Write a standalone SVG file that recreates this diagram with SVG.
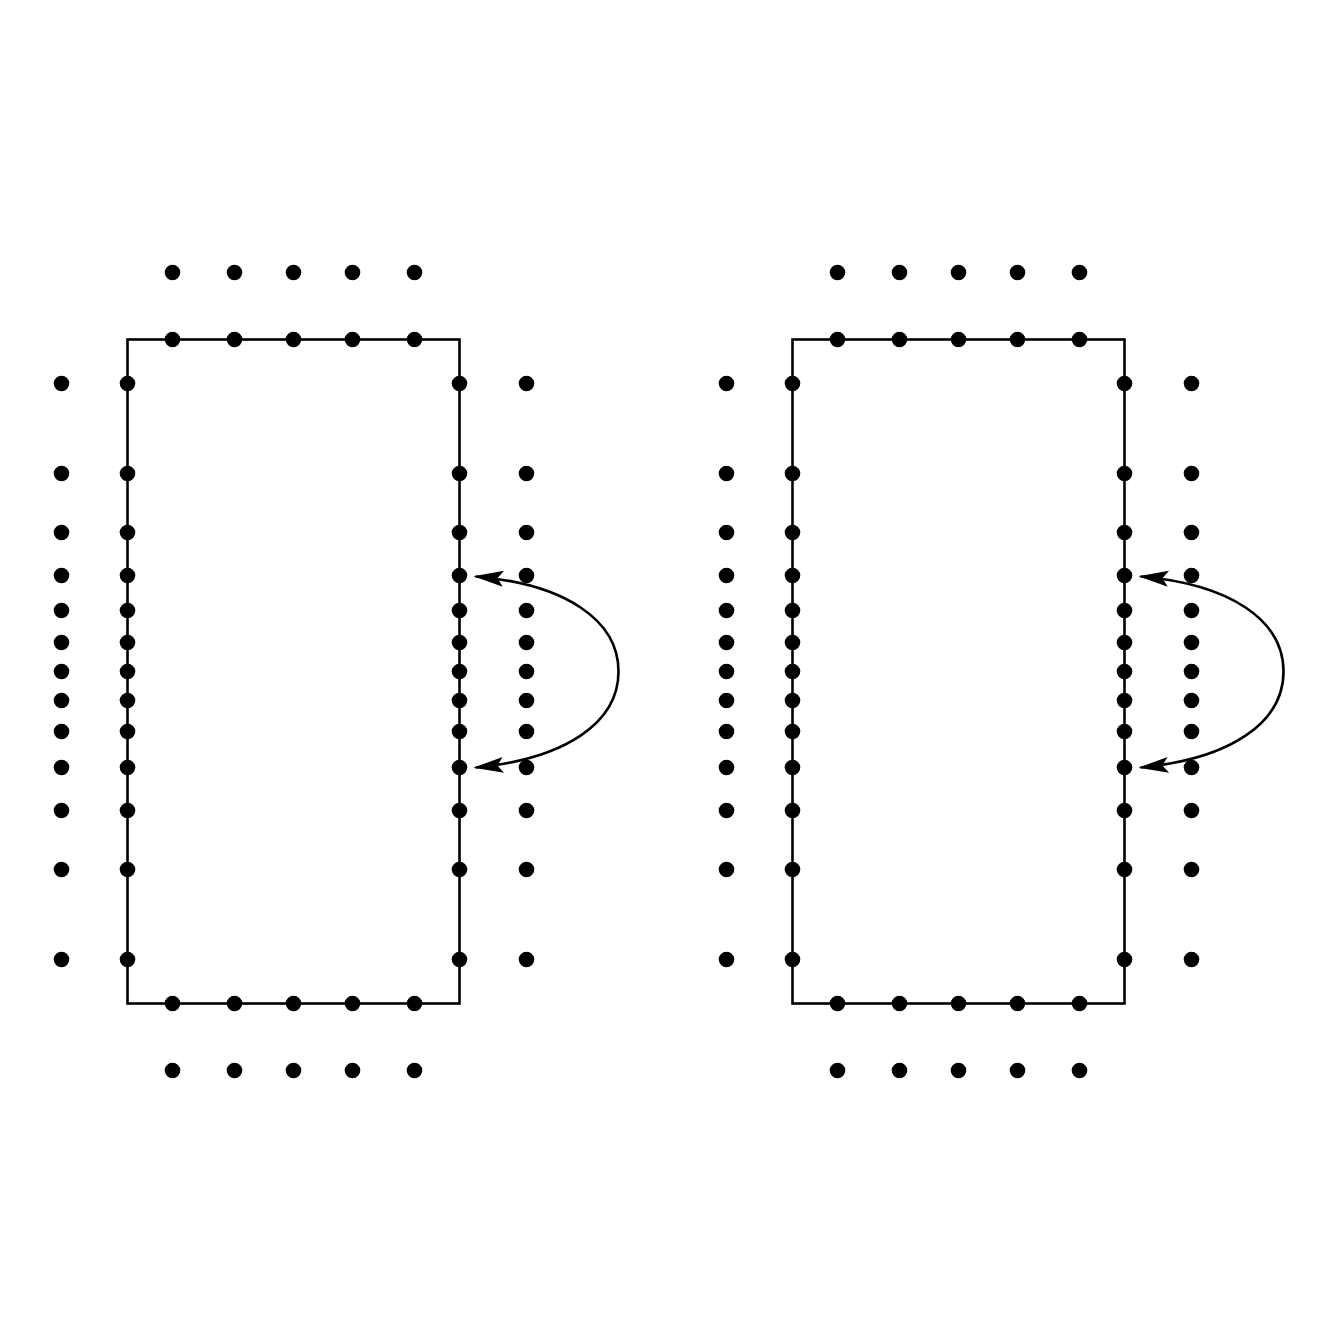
<svg xmlns="http://www.w3.org/2000/svg" width="1344" height="1344" viewBox="0 0 1344 1344">
<style>
.box{fill:none;stroke:#000;stroke-width:2.6}
.d{fill:#000}
.arc{fill:none;stroke:#000;stroke-width:2.6}
</style>
<defs>
<marker id="ah" markerUnits="userSpaceOnUse" markerWidth="32" markerHeight="20" viewBox="-30 -10 32 20" refX="0" refY="0" orient="auto-start-reverse" overflow="visible">
<path d="M2,0 L-28,-8 L-22,0 L-28,8 Z" fill="#000"/>
</marker>
<g id="col13">
<circle class="d" cx="0" cy="383.5" r="7.8"/>
<circle class="d" cx="0" cy="473.5" r="7.8"/>
<circle class="d" cx="0" cy="532.5" r="7.8"/>
<circle class="d" cx="0" cy="575.5" r="7.8"/>
<circle class="d" cx="0" cy="610.5" r="7.8"/>
<circle class="d" cx="0" cy="642.5" r="7.8"/>
<circle class="d" cx="0" cy="671.5" r="7.8"/>
<circle class="d" cx="0" cy="700.5" r="7.8"/>
<circle class="d" cx="0" cy="731.5" r="7.8"/>
<circle class="d" cx="0" cy="767.5" r="7.8"/>
<circle class="d" cx="0" cy="810.5" r="7.8"/>
<circle class="d" cx="0" cy="869.5" r="7.8"/>
<circle class="d" cx="0" cy="959.5" r="7.8"/>
</g>
<g id="row5">
<circle class="d" cx="172.5" cy="0" r="7.8"/>
<circle class="d" cx="234.5" cy="0" r="7.8"/>
<circle class="d" cx="293.5" cy="0" r="7.8"/>
<circle class="d" cx="352.5" cy="0" r="7.8"/>
<circle class="d" cx="414.5" cy="0" r="7.8"/>
</g>
</defs>
<rect width="1344" height="1344" fill="#fff"/>
<g id="panel-left">
<rect class="box" x="127.5" y="339.5" width="332" height="664"/>
<use href="#col13" x="61.5"/>
<use href="#col13" x="127.5"/>
<use href="#col13" x="459.5"/>
<use href="#col13" x="526.5"/>
<use href="#row5" y="272.5"/>
<use href="#row5" y="339.5"/>
<use href="#row5" y="1003.5"/>
<use href="#row5" y="1070.5"/>
</g>
<g id="panel-right">
<rect class="box" x="792.5" y="339.5" width="332" height="664"/>
<use href="#col13" x="726.5"/>
<use href="#col13" x="792.5"/>
<use href="#col13" x="1124.5"/>
<use href="#col13" x="1191.5"/>
<use href="#row5" x="665" y="272.5"/>
<use href="#row5" x="665" y="339.5"/>
<use href="#row5" x="665" y="1003.5"/>
<use href="#row5" x="665" y="1070.5"/>
</g>
<g id="connectors">
<path class="arc" d="M475.5,576.5 C565,584 618.5,620 618.5,671.5 C618.5,723 565,759 475.5,767.5" marker-start="url(#ah)" marker-end="url(#ah)"/>
<path class="arc" d="M1140.5,576.5 C1230,584 1283.5,620 1283.5,671.5 C1283.5,723 1230,759 1140.5,767.5" marker-start="url(#ah)" marker-end="url(#ah)"/>
</g>
</svg>
